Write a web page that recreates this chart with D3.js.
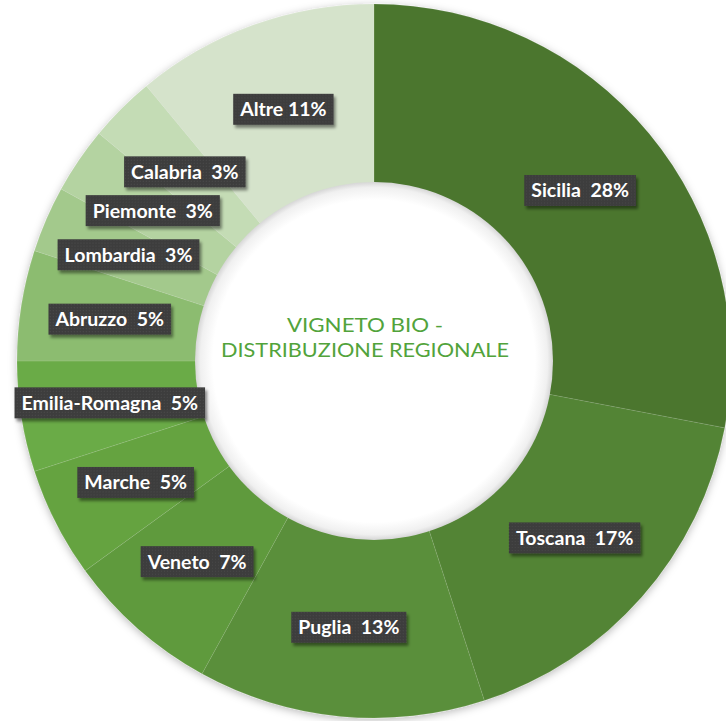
<!DOCTYPE html>
<html>
<head>
<meta charset="utf-8">
<script src="https://cdn.jsdelivr.net/npm/d3@7"></script>
<style>
  html, body { margin: 0; padding: 0; background: #fff; }
  svg { display: block; }
</style>
</head>
<body>
<div id="chart"></div>
<script>
// Dati (quote regionali del vigneto bio, in %)
const regions = ["Sicilia", "Toscana", "Puglia", "Veneto", "Marche", "Emilia-Romagna",
  "Abruzzo", "Lombardia", "Piemonte", "Calabria", "Altre"];
const shares = [28, 17, 13, 7, 5, 5, 5, 3, 3, 3, 11];
const sliceColors = ["#4b762f", "#538435", "#5a8f3a", "#5f9a3d", "#65a341", "#6aab46",
  "#8cbc70", "#a3c98c", "#b4d3a1", "#c4dcb5", "#d5e3cb"];
const titleLines = ["VIGNETO BIO -", "DISTRIBUZIONE REGIONALE"];

const width = 726, height = 721;
const cx = 374, cy = 361;
const outerR = 357, innerR = 178;

const svg = d3.select("#chart").append("svg")
  .attr("width", width)
  .attr("height", height);

const defs = svg.append("defs");

// ombra esterna dell'anello
const ringShadow = defs.append("filter").attr("id", "ringShadow")
  .attr("x", "-10%").attr("y", "-10%").attr("width", "120%").attr("height", "120%");
ringShadow.append("feDropShadow")
  .attr("dx", 0).attr("dy", 2).attr("stdDeviation", 4)
  .attr("flood-color", "#000").attr("flood-opacity", 0.28);

// ombra delle etichette
const labelShadow = defs.append("filter").attr("id", "labelShadow")
  .attr("x", "-20%").attr("y", "-30%").attr("width", "140%").attr("height", "170%");
labelShadow.append("feDropShadow")
  .attr("dx", 2).attr("dy", 3).attr("stdDeviation", 1.5)
  .attr("flood-color", "#000").attr("flood-opacity", 0.45);

// trama puntinata delle etichette
const dots = defs.append("pattern").attr("id", "dots")
  .attr("width", 3).attr("height", 3).attr("patternUnits", "userSpaceOnUse");
dots.append("rect").attr("width", 3).attr("height", 3).attr("fill", "#3d3d3d");
dots.append("rect").attr("width", 1).attr("height", 1).attr("fill", "#4a4a4a");

// ombra interna del foro
const holeGrad = defs.append("radialGradient").attr("id", "holeGrad");
holeGrad.append("stop").attr("offset", "0%").attr("stop-color", "#fff");
holeGrad.append("stop").attr("offset", "90%").attr("stop-color", "#fff");
holeGrad.append("stop").attr("offset", "97%").attr("stop-color", "#f0f0f0");
holeGrad.append("stop").attr("offset", "100%").attr("stop-color", "#d6d6d6");

const data = regions.map((name, i) => ({ name, value: shares[i], color: sliceColors[i] }));

const pie = d3.pie().value(d => d.value).sort(null);
const arcs = pie(data);

const arc = d3.arc().innerRadius(innerR).outerRadius(outerR);

const g = svg.append("g").attr("transform", `translate(${cx},${cy})`);

// anello
g.append("g")
  .attr("filter", "url(#ringShadow)")
  .selectAll("path")
  .data(arcs)
  .enter()
  .append("path")
  .attr("d", arc)
  .attr("fill", d => d.data.color)
  .attr("stroke", "#ffffff")
  .attr("stroke-opacity", 0.12)
  .attr("stroke-width", 0.8);

// foro centrale
g.append("circle")
  .attr("r", innerR + 1)
  .attr("fill", "url(#holeGrad)");

// titolo
const title = g.append("text")
  .attr("text-anchor", "middle")
  .attr("fill", "#52a33b")
  .style("font-family", "Lato, 'Open Sans', sans-serif")
  .style("font-size", "20px");
title.append("tspan").attr("x", -9).attr("y", -29).text(titleLines[0])
  .attr("textLength", 156).attr("lengthAdjust", "spacingAndGlyphs");
title.append("tspan").attr("x", -9).attr("y", -4).text(titleLines[1])
  .attr("textLength", 288).attr("lengthAdjust", "spacingAndGlyphs");

// etichette
const labels = g.append("g")
  .selectAll("g")
  .data(arcs)
  .enter()
  .append("g")
  .attr("transform", d => {
    const [x, y] = arc.centroid(d);
    return `translate(${x},${y})`;
  });

labels.each(function(d) {
  const lg = d3.select(this);
  const sep = d.data.name === "Altre" ? " " : "\u00a0\u00a0";
  const txt = lg.append("text")
    .attr("text-anchor", "middle")
    .attr("y", 7)
    .attr("fill", "#ffffff")
    .style("font-family", "Lato, 'Open Sans', sans-serif")
    .style("font-weight", "bold")
    .style("font-size", "19.5px")
    .text(d.data.name + sep + d.data.value + "%");
  const w = txt.node().getComputedTextLength();
  lg.insert("rect", "text")
    .attr("x", -w / 2 - 7)
    .attr("y", -15.5)
    .attr("width", w + 14)
    .attr("height", 31)
    .attr("fill", "url(#dots)")
    .attr("filter", "url(#labelShadow)");
});
</script>
</body>
</html>
